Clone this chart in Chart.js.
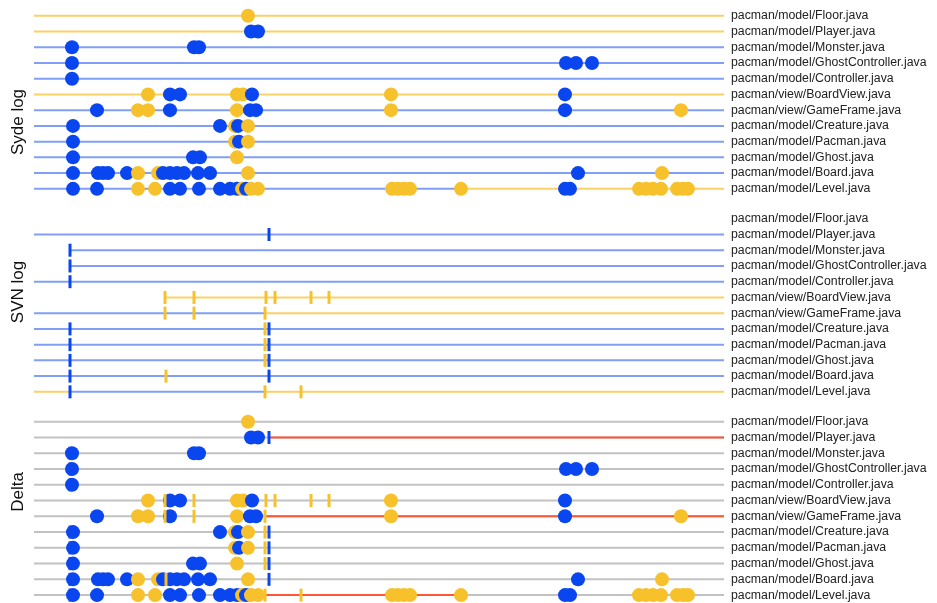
<!DOCTYPE html>
<html>
<head>
<meta charset="utf-8">
<script src="https://cdn.jsdelivr.net/npm/chart.js@4.4.1/dist/chart.umd.min.js"></script>
<style>
  body { margin: 0; background: #fff; }
  .panel { position: absolute; left: 0; width: 937px; }
</style>
</head>
<body>
<div class="panel" style="top:0;height:203px"><canvas id="syde"></canvas></div>
<div class="panel" style="top:203px;height:203px"><canvas id="svn"></canvas></div>
<div class="panel" style="top:406px;height:197px"><canvas id="delta"></canvas></div>
<script>
// files, top to bottom
var files = ['pacman/model/Floor.java', 'pacman/model/Player.java', 'pacman/model/Monster.java',
  'pacman/model/GhostController.java', 'pacman/model/Controller.java', 'pacman/view/BoardView.java',
  'pacman/view/GameFrame.java', 'pacman/model/Creature.java', 'pacman/model/Pacman.java',
  'pacman/model/Ghost.java', 'pacman/model/Board.java', 'pacman/model/Level.java'];

// timeline runs 0..690, 'a' and 'b' are the two developers
var timeEnd = 690;

// Syde log: [time, developer] per file
var sydeEvents = [
  [[214,'b']],
  [[217,'a'],[224,'a']],
  [[38,'a'],[160,'a'],[165,'a']],
  [[38,'a'],[532,'a'],[542,'a'],[558,'a']],
  [[38,'a']],
  [[114,'b'],[136,'a'],[146,'a'],[203,'b'],[209,'b'],[218,'a'],[357,'b'],[531,'a']],
  [[63,'a'],[104,'b'],[114,'b'],[136,'a'],[203,'b'],[216,'a'],[222,'a'],[357,'b'],[531,'a'],[647,'b']],
  [[39,'a'],[186,'a'],[201,'b'],[204,'a'],[214,'b']],
  [[39,'a'],[201,'b'],[205,'a'],[214,'b']],
  [[39,'a'],[159,'a'],[166,'a'],[203,'b']],
  [[39,'a'],[64,'a'],[69,'a'],[74,'a'],[93,'a'],[104,'b'],[124,'b'],[129,'a'],[136,'a'],[143,'a'],[150,'a'],
   [164,'a'],[176,'a'],[214,'b'],[544,'a'],[628,'b']],
  [[39,'a'],[63,'a'],[104,'b'],[121,'b'],[136,'a'],[146,'a'],[165,'a'],[186,'a'],[196,'a'],[203,'a'],
   [208,'b'],[212,'a'],[217,'b'],[224,'b'],[358,'b'],[364,'b'],[370,'b'],[376,'b'],[427,'b'],
   [531,'a'],[536,'a'],[605,'b'],[612,'b'],[619,'b'],[627,'b'],[643,'b'],[649,'b'],[654,'b']]
];

// SVN log commits
var svnEvents = [
  [],
  [[235,'a']],
  [[36,'a']],
  [[36,'a']],
  [[36,'a']],
  [[131,'b'],[160,'b'],[232,'b'],[241,'b'],[277,'b'],[295,'b']],
  [[131,'b'],[160,'b'],[231,'b']],
  [[36,'a'],[231,'b'],[235,'a']],
  [[36,'a'],[231,'b'],[235,'a']],
  [[36,'a'],[231,'b'],[235,'a']],
  [[36,'a'],[132,'b'],[235,'a']],
  [[36,'a'],[231,'b'],[267,'b']]
];

// ownership spans [from, to, owner]
var sydeOwner = [
  [[0,690,'b']], [[0,690,'b']], [[0,690,'a']], [[0,690,'a']], [[0,690,'a']], [[0,690,'b']],
  [[0,690,'a']], [[0,690,'a']], [[0,690,'a']], [[0,690,'a']], [[0,690,'a']],
  [[0,427,'a'],[427,690,'b']]
];
var svnOwner = [
  [], [[0,690,'a']], [[36,690,'a']], [[36,690,'a']], [[0,690,'a']], [[131,690,'b']],
  [[0,231,'a'],[231,690,'b']], [[0,690,'a']], [[0,690,'a']], [[0,690,'a']], [[0,690,'a']],
  [[0,36,'b'],[36,231,'a'],[231,690,'b']]
];
// where the two logs disagree
var deltaDiff = [
  [], [[236,690]], [], [], [], [], [[232,690]], [], [], [], [], [[232,427]]
];

var dotColor = { a: '#0a46f0', b: '#f7c12c' };
var lineColor = { a: '#819ff7', b: '#fbd166', same: '#c2c2c2', diff: '#ff5636' };

function spanSets(spans) {
  var sets = [];
  spans.forEach(function (row, r) {
    row.forEach(function (s) {
      sets.push({
        data: [{ x: s[0], y: r }, { x: s[1], y: r }],
        showLine: true, borderColor: lineColor[s[2]], borderWidth: 2,
        pointRadius: 0, order: s[2] === 'same' ? 4 : 3
      });
    });
  });
  return sets;
}

function eventSet(events, ticks) {
  var pts = [], cols = [];
  events.forEach(function (row, r) {
    row.forEach(function (e) { pts.push({ x: e[0], y: r }); cols.push(dotColor[e[1]]); });
  });
  if (ticks) {
    return { data: pts, pointStyle: 'line', pointRotation: 90, pointRadius: 6.5,
      pointBorderColor: cols, pointBorderWidth: 3, order: 0 };
  }
  return { data: pts, pointStyle: 'circle', pointRadius: 7, pointBackgroundColor: cols,
    pointBorderWidth: 0, order: 1 };
}

var deltaSpans = files.map(function (f, r) {
  return [[0, timeEnd, 'same']].concat(deltaDiff[r].map(function (d) { return [d[0], d[1], 'diff']; }));
});

var sideTitle = {
  id: 'sideTitle',
  afterDraw: function (chart, args, o) {
    var ctx = chart.ctx;
    ctx.save();
    ctx.translate(18, o.y);
    ctx.rotate(-Math.PI / 2);
    ctx.font = '17px "Liberation Sans", Arial, sans-serif';
    ctx.fillStyle = '#111';
    ctx.textAlign = 'center';
    ctx.textBaseline = 'middle';
    ctx.fillText(o.text, 0, 0);
    ctx.restore();
  }
};

function panel(id, title, titleY, yMax, datasets) {
  new Chart(document.getElementById(id), {
    type: 'scatter',
    data: { datasets: datasets },
    plugins: [sideTitle],
    options: {
      responsive: true, maintainAspectRatio: false, animation: false, events: [],
      layout: { autoPadding: false, padding: { left: 34, top: 0, right: 0, bottom: 0 } },
      plugins: { legend: { display: false }, tooltip: { enabled: false },
        sideTitle: { text: title, y: titleY } },
      scales: {
        x: { type: 'linear', min: 0, max: timeEnd, display: false },
        y: {
          type: 'linear', position: 'right', reverse: true, min: -1, max: yMax,
          grid: { display: false, drawTicks: false }, border: { display: false },
          afterBuildTicks: function (s) { s.ticks = files.map(function (f, i) { return { value: i }; }); },
          afterFit: function (s) { s.width = 213; s.paddingTop = 0; s.paddingBottom = 0; },
          ticks: {
            autoSkip: false, padding: 7, color: '#222',
            font: { family: '"Liberation Sans", Arial, sans-serif', size: 12.3, lineHeight: '0.1px' },
            callback: function (v) { return files[v]; }
          }
        }
      }
    }
  });
}

panel('syde', 'Syde log', 122, 11.9, spanSets(sydeOwner).concat([eventSet(sydeEvents, false)]));
panel('svn', 'SVN log', 89, 11.9, spanSets(svnOwner).concat([eventSet(svnEvents, true)]));
panel('delta', 'Delta', 86, 11.5,
  spanSets(deltaSpans).concat([eventSet(sydeEvents, false), eventSet(svnEvents, true)]));
</script>
</body>
</html>
